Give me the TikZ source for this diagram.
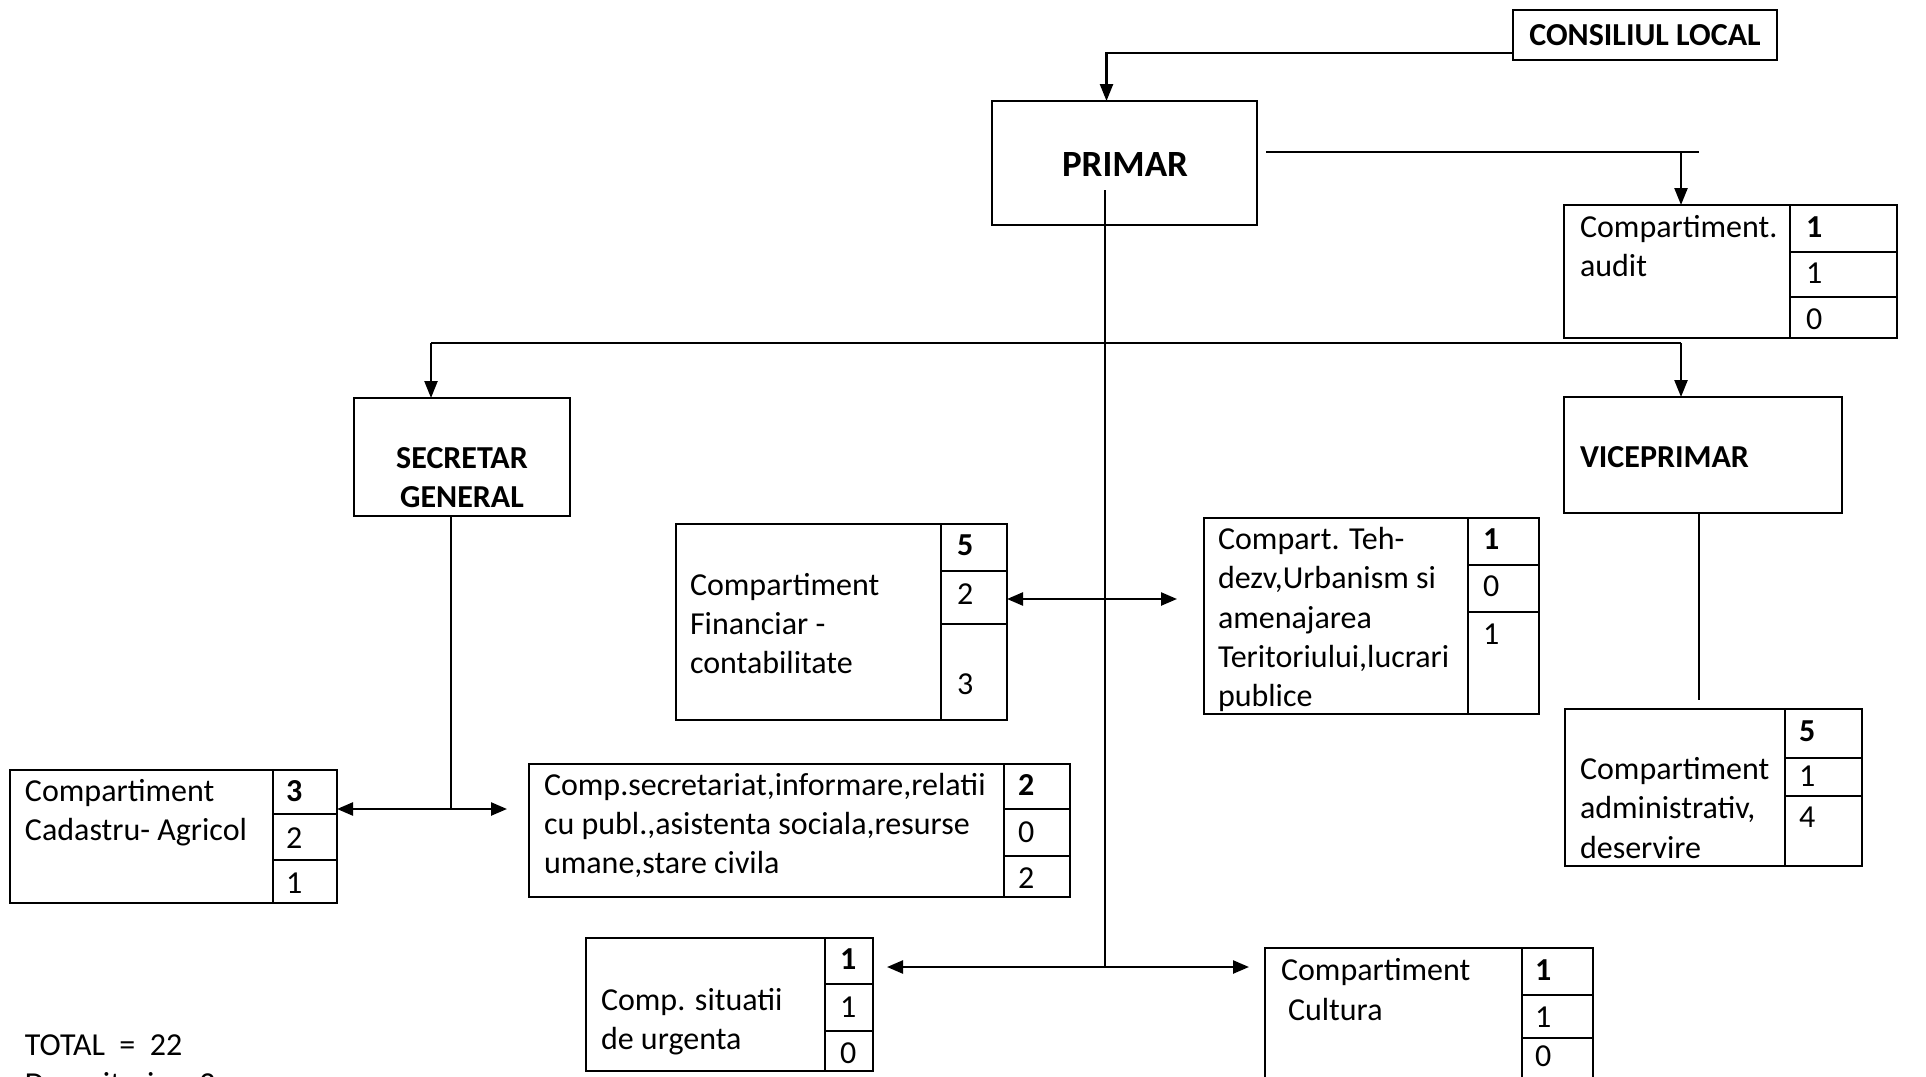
\documentclass[tikz,border=0pt]{standalone}
\usepackage{fontspec}
\setmainfont{Carlito}
\usetikzlibrary{arrows.meta,calc}
\newcommand{\bx}[5]{\node[bxs, minimum width={(#4-#2)*0.5pt}, minimum height={(#5-#3)*0.5pt}] (#1) at ({(#2+#4)/2},{(#3+#5)/2}) {};}
\newcommand{\tb}[8]{\bx{#1}{#2}{#3}{#4}{#5}
  \draw[bl] (#6,#3) -- (#6,#5);
  \draw[bl] (#6,#7) -- (#4,#7);
  \draw[bl] (#6,#8) -- (#4,#8);}
\begin{document}
\begin{tikzpicture}[x=0.5pt,y=-0.5pt,
  bxs/.style={draw,line width=1.2pt,inner sep=0,outer sep=0,rectangle},
  bl/.style={line width=1.2pt},
  txt/.style={inner sep=0,outer sep=0,anchor=base west,font=\fontsize{16}{19.6}\selectfont},
  bnum/.style={txt,font=\fontsize{16}{19.6}\selectfont\bfseries},
  ttl/.style={inner sep=0,outer sep=0,font=\fontsize{16}{19.6}\selectfont\bfseries},
  ln/.style={line width=1.2pt},
  thinl/.style={line width=0.8pt},
  arr/.style={ln,-{Triangle[length=8.5pt,width=6.5pt]}},
  darr/.style={ln,{Triangle[length=8pt,width=6.5pt]}-{Triangle[length=8pt,width=6.5pt]}}]
\useasboundingbox (0,0) rectangle (1926,1076);

% main boxes
\bx{cl}{1513}{10}{1777}{60}
\node[ttl] (clt) at (cl.center) {CONSILIUL LOCAL};
\bx{pr}{992}{101}{1257}{225}
\node[ttl,font=\fontsize{18.5}{22}\selectfont\bfseries] (prt) at (1125,165) {PRIMAR};
\bx{sg}{354}{398}{570}{516}
\node[ttl] (sgt1) at (462,458) {SECRETAR};
\node[ttl] (sgt2) at (462,497) {GENERAL};
\bx{vp}{1564}{397}{1842}{513}
\node[ttl,anchor=west] (vpt) at (1580,457) {VICEPRIMAR};

% compartments
\tb{au}{1564}{205}{1897}{338}{1790}{252}{297}
\node[txt] (au1) at (1580,237) {Compartiment.};
\node[txt] (au2) at (1580,276) {audit};
\node[bnum] (aun1) at (1806,237) {1};
\node[txt] (aun2) at (1806,283) {1};
\node[txt] (aun3) at (1806,329) {0};

\tb{fin}{676}{524}{1007}{720}{941}{571}{624}
\node[txt] (fi1) at (690,595) {Compartiment};
\node[txt] (fi2) at (690,634) {Financiar -};
\node[txt] (fi3) at (690,673) {contabilitate};
\node[bnum] (fin1) at (957,555) {5};
\node[txt] (fin2) at (957,604) {2};
\node[txt] (fin3) at (957,694) {3};

\tb{teh}{1204}{518}{1539}{714}{1468}{565}{612}
\node[txt] (te1) at (1218,549) {Compart. Teh-};
\node[txt] (te2) at (1218,588) {dezv,Urbanism si};
\node[txt] (te3) at (1218,628) {amenajarea};
\node[txt] (te4) at (1218,667) {Teritoriului,lucrari};
\node[txt] (te5) at (1218,706) {publice};
\node[bnum] (ten1) at (1483,549) {1};
\node[txt] (ten2) at (1483,596) {0};
\node[txt] (ten3) at (1483,644) {1};

\tb{cad}{10}{770}{337}{903}{273}{814}{860}
\node[txt] (ca1) at (25,801) {Compartiment};
\node[txt] (ca2) at (25,840) {Cadastru- Agricol};
\node[bnum] (can1) at (286,801) {3};
\node[txt] (can2) at (286,848) {2};
\node[txt] (can3) at (286,893) {1};

\tb{sec}{529}{764}{1070}{897}{1004}{809}{856}
\node[txt] (se1) at (544,795) {Comp.secretariat,informare,relatii};
\node[txt] (se2) at (544,834) {cu publ.,asistenta sociala,resurse};
\node[txt] (se3) at (544,873) {umane,stare civila};
\node[bnum] (sen1) at (1018,795) {2};
\node[txt] (sen2) at (1018,842) {0};
\node[txt] (sen3) at (1018,888) {2};

\tb{adm}{1565}{709}{1862}{866}{1785}{758}{796}
\node[txt] (ad1) at (1580,779) {Compartiment};
\node[txt] (ad2) at (1580,818) {administrativ,};
\node[txt] (ad3) at (1580,858) {deservire};
\node[bnum] (adn1) at (1799,741) {5};
\node[txt] (adn2) at (1799,786) {1};
\node[txt] (adn3) at (1799,827) {4};

\tb{sit}{586}{938}{873}{1071}{825}{984}{1031}
\node[txt] (si1) at (601,1010) {Comp. situatii};
\node[txt] (si2) at (601,1049) {de urgenta};
\node[bnum] (sin1) at (840,969) {1};
\node[txt] (sin2) at (840,1017) {1};
\node[txt] (sin3) at (840,1063) {0};

\tb{cul}{1265}{948}{1593}{1095}{1522}{995}{1038}
\node[txt] (cu1) at (1281,980) {Compartiment};
\node[txt] (cu2) at (1288,1020) {Cultura};
\node[bnum] (cun1) at (1535,980) {1};
\node[txt] (cun2) at (1535,1027) {1};
\node[txt] (cun3) at (1535,1066) {0};

\node[txt] (tot) at (25,1055) {TOTAL~~=~~22};
\node[txt] (dem) at (25,1094) {Demnitari~~=~~2};

% connectors
\draw[arr] ([yshift=-9pt]cl.west) -| ($(pr.north)+(-18,0)$);

\coordinate (pa) at (1699,152);
\coordinate (aua) at ($(au.north west)+(117,0)$);
\draw[ln] ([shift={(4.5pt,5.5pt)}]pr.east) -- (pa);
\draw[arr] (pa -| aua) -- (aua);

\coordinate (pv) at (1105,190);
\coordinate (bj) at (1105,967);
\draw[thinl] (pv) -- (bj);

\coordinate (hl) at (431,343);
\coordinate (hr) at (1681,343);
\draw[ln] (hl) -- (hr);
\draw[arr] (hl) -- (hl |- sg.north);
\draw[arr] (hr) -- (hr |- vp.north);

\coordinate (sgj) at (451,809);
\draw[thinl] (sg.south -| sgj) -- (sgj);
\draw[darr] (cad.east |- sgj) -- ($(sec.west |- sgj)+(-22,0)$);

\coordinate (ft) at (1005,599);
\draw[darr] (fin.east |- ft) -- ($(teh.west |- ft)+(-27,0)$);

\coordinate (vq) at (1699,700);
\draw[thinl] (vp.south -| vq) -- (vq);

\draw[darr] ($(sit.east |- bj)+(14,0)$) -- ($(cul.west |- bj)+(-16,0)$);
\end{tikzpicture}
\end{document}
